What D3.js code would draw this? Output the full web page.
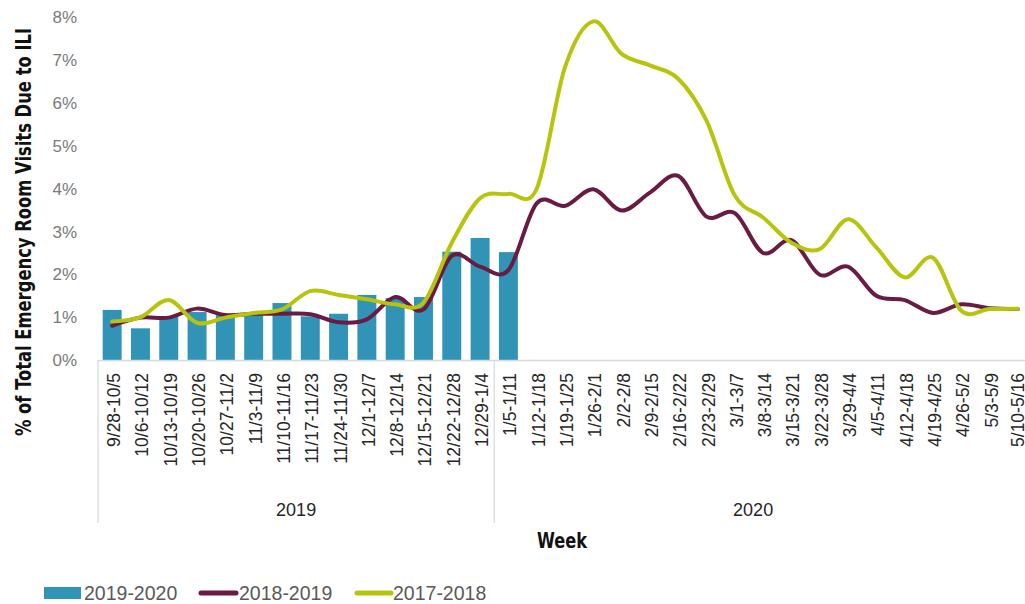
<!DOCTYPE html>
<html>
<head>
<meta charset="utf-8">
<script src="https://cdn.jsdelivr.net/npm/d3@7"></script>
<style>
  html, body { margin: 0; padding: 0; background: #ffffff; }
  svg { display: block; }
</style>
</head>
<body>
<svg id="chart" width="1025" height="604"></svg>
<script>
// ---------------- DATA ----------------
const categories = [
  "9/28-10/5","10/6-10/12","10/13-10/19","10/20-10/26","10/27-11/2","11/3-11/9",
  "11/10-11/16","11/17-11/23","11/24-11/30","12/1-12/7","12/8-12/14","12/15-12/21",
  "12/22-12/28","12/29-1/4",
  "1/5-1/11","1/12-1/18","1/19-1/25","1/26-2/1","2/2-2/8","2/9-2/15","2/16-2/22",
  "2/23-2/29","3/1-3/7","3/8-3/14","3/15-3/21","3/22-3/28","3/29-4/4","4/5-4/11",
  "4/12-4/18","4/19-4/25","4/26-5/2","5/3-5/9","5/10-5/16"
];
const yearGroups = ["2019", "2020"];
const yearGroupSizes = [14, 19];

const season2019_2020 = [1.17, 0.74, 1.02, 1.12, 1.05, 1.10, 1.33, 1.02, 1.08, 1.52, 1.45, 1.47, 2.53, 2.85, 2.52];
const season2018_2019 = [0.80, 0.99, 0.99, 1.20, 1.05, 1.08, 1.08, 1.07, 0.88, 0.95, 1.47, 1.18, 2.43, 2.18, 2.10,
                         3.66, 3.60, 3.99, 3.49, 3.91, 4.30, 3.35, 3.43, 2.50, 2.80, 1.99, 2.18, 1.50, 1.40, 1.10, 1.30, 1.21, 1.19];
const season2017_2018 = [0.90, 1.00, 1.40, 0.87, 0.99, 1.10, 1.18, 1.61, 1.52, 1.42, 1.30, 1.34, 2.74, 3.78, 3.88,
                         4.00, 6.84, 7.91, 7.15, 6.88, 6.57, 5.59, 3.84, 3.33, 2.74, 2.59, 3.29, 2.63, 1.93, 2.39, 1.15, 1.19, 1.20];
const yTicks = [0, 1, 2, 3, 4, 5, 6, 7, 8];
const legendLabels = ["2019-2020", "2018-2019", "2017-2018"];

// ---------------- STYLE ----------------
const colBar = "#3194b6";
const colMaroon = "#6a1b43";
const colGreen = "#b7c40e";
const font = "'Liberation Sans', Arial, sans-serif";
const fontNarrow = "'Liberation Sans Narrow', 'Arial Narrow', 'DejaVu Sans Condensed', sans-serif";

const svg = d3.select("#chart");

const x = d3.scaleBand().domain(categories).range([98, 1032]).paddingInner(0.33).paddingOuter(0.165);
const y = d3.scaleLinear().domain([0, 8]).range([360, 17.5]);
const cx = c => x(c) + x.bandwidth() / 2;
const step = x.step();
const x0 = x.range()[0];

// y tick labels
svg.append("g").selectAll("text").data(yTicks).join("text")
  .attr("x", 77).attr("y", d => y(d)).attr("dy", "0.35em")
  .attr("text-anchor", "end")
  .attr("font-family", font).attr("font-size", 17).attr("fill", "#7a7a7a")
  .text(d => d + "%");

// y title
svg.append("text")
  .attr("transform", "translate(31,232) rotate(-90)")
  .attr("text-anchor", "middle")
  .attr("font-family", fontNarrow).attr("font-weight", "bold").attr("font-size", 22)
  .attr("fill", "#111")
  .attr("textLength", 408).attr("lengthAdjust", "spacingAndGlyphs")
  .text("% of Total Emergency Room Visits Due to ILI");

// bars
svg.append("g").selectAll("rect").data(season2019_2020).join("rect")
  .attr("x", (d, i) => x(categories[i]))
  .attr("y", d => y(d))
  .attr("width", x.bandwidth())
  .attr("height", d => y(0) - y(d))
  .attr("fill", colBar);

// axis line and group dividers
svg.append("line").attr("x1", x0).attr("x2", 1032).attr("y1", 360.5).attr("y2", 360.5)
  .attr("stroke", "#d9d9d9").attr("stroke-width", 1.5);
let acc = 0;
const bounds = [0];
yearGroupSizes.forEach(s => { acc += s; bounds.push(acc); });
svg.append("g").selectAll("line").data(bounds).join("line")
  .attr("x1", d => x0 + d * step).attr("x2", d => x0 + d * step)
  .attr("y1", 360).attr("y2", 523)
  .attr("stroke", "#d9d9d9").attr("stroke-width", 1.2);

// x tick labels
svg.append("g").selectAll("text").data(categories).join("text")
  .attr("transform", d => `translate(${Math.min(cx(d) + 8, 1024)},373) rotate(-90)`)
  .attr("text-anchor", "end")
  .attr("font-family", font).attr("font-size", 17.5).attr("fill", "#262626")
  .text(d => d);

// year group labels
svg.append("g").selectAll("text").data(yearGroups).join("text")
  .attr("x", (d, i) => x0 + (bounds[i] + bounds[i + 1]) / 2 * step - (i === 1 ? 10 : 0))
  .attr("y", 516)
  .attr("text-anchor", "middle")
  .attr("font-family", font).attr("font-size", 18).attr("fill", "#262626")
  .text(d => d);

// x title
svg.append("text")
  .attr("x", 562).attr("y", 548).attr("text-anchor", "middle")
  .attr("font-family", fontNarrow).attr("font-weight", "bold").attr("font-size", 22)
  .attr("fill", "#111")
  .attr("textLength", 50).attr("lengthAdjust", "spacingAndGlyphs")
  .text("Week");

// lines
const line = d3.line().x((d, i) => cx(categories[i])).y(d => y(d)).curve(d3.curveCardinal.tension(0));
svg.append("path").datum(season2018_2019).attr("d", line)
  .attr("fill", "none").attr("stroke", colMaroon).attr("stroke-width", 4)
  .attr("stroke-linecap", "round").attr("stroke-linejoin", "round");
svg.append("path").datum(season2017_2018).attr("d", line)
  .attr("fill", "none").attr("stroke", colGreen).attr("stroke-width", 4)
  .attr("stroke-linecap", "round").attr("stroke-linejoin", "round");

// legend
const lg = svg.append("g");
lg.append("rect").attr("x", 44).attr("y", 587).attr("width", 37).attr("height", 12).attr("fill", colBar);
lg.append("line").attr("x1", 201).attr("x2", 236).attr("y1", 593).attr("y2", 593)
  .attr("stroke", colMaroon).attr("stroke-width", 5).attr("stroke-linecap", "round");
lg.append("line").attr("x1", 357).attr("x2", 391).attr("y1", 593).attr("y2", 593)
  .attr("stroke", colGreen).attr("stroke-width", 5).attr("stroke-linecap", "round");
const legendX = [84, 239, 393];
lg.selectAll("text").data(legendLabels).join("text")
  .attr("x", (d, i) => legendX[i]).attr("y", 593).attr("dy", "0.35em")
  .attr("font-family", font).attr("font-size", 19.5).attr("fill", "#595959")
  .text(d => d);
</script>
</body>
</html>
